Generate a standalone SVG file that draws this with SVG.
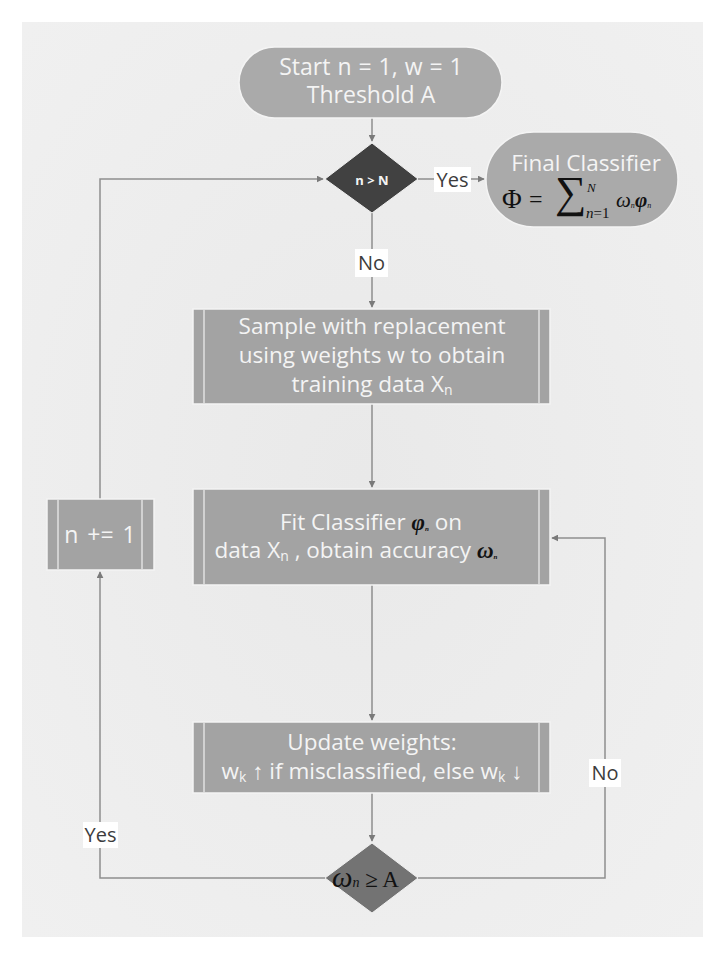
<svg xmlns="http://www.w3.org/2000/svg" width="727" height="967" viewBox="0 0 727 967">
<defs>
<marker id="arr" viewBox="0 0 10 10" refX="9" refY="5" markerWidth="7" markerHeight="7" markerUnits="userSpaceOnUse" orient="auto">
<path d="M0,0 L10,5 L0,10 z" fill="#7a7a7a"/>
</marker>
<radialGradient id="bg" cx="0.5" cy="0.5" r="0.7">
<stop offset="0" stop-color="#e9e9e9"/>
<stop offset="1" stop-color="#f0f0f0"/>
</radialGradient>
<style>
.t{font-family:"Open Sans","Noto Sans","Liberation Sans",sans-serif;fill:#f4f4f4;font-size:22.5px;text-anchor:middle}
.p{font-size:23px}
.lbl{font-family:"Open Sans","Noto Sans","Liberation Sans",sans-serif;fill:#3c3c3c;font-size:20px;text-anchor:middle}
.m{font-family:"Liberation Serif","DejaVu Serif",serif;fill:#111}
.box{fill:#a3a3a3;stroke:#f4f4f4;stroke-width:1.5}
.bar{stroke:#e0e0e0;stroke-width:1.5}
.pill{fill:#aaaaaa;stroke:#f4f4f4;stroke-width:1.5}
.c{fill:none;stroke:#8e8e8e;stroke-width:1.5}
.lb{fill:#ffffff}
</style>
</defs>
<rect x="0" y="0" width="727" height="967" fill="#ffffff"/>
<rect x="22" y="22" width="681" height="915" fill="url(#bg)"/>

<g id="connectors">
<path class="c" d="M372,118 V141" marker-end="url(#arr)"/>
<path class="c" d="M418,179 H484" marker-end="url(#arr)"/>
<path class="c" d="M372,212 V307" marker-end="url(#arr)"/>
<path class="c" d="M372,404 V487" marker-end="url(#arr)"/>
<path class="c" d="M372,585 V720" marker-end="url(#arr)"/>
<path class="c" d="M372,793 V841" marker-end="url(#arr)"/>
<path class="c" d="M326,878 H100 V572" marker-end="url(#arr)"/>
<path class="c" d="M418,878 H605 V538 H552" marker-end="url(#arr)"/>
<path class="c" d="M100,499 V179 H323" marker-end="url(#arr)"/>
<rect class="lb" x="434" y="167" width="37" height="25"/>
<text class="lbl" x="452.5" y="187">Yes</text>
<rect class="lb" x="355" y="249" width="33" height="28"/>
<text class="lbl" x="371.5" y="270">No</text>
<rect class="lb" x="83" y="822" width="35" height="26"/>
<text class="lbl" x="100.5" y="842">Yes</text>
<rect class="lb" x="589" y="759" width="32" height="28"/>
<text class="lbl" x="605" y="780">No</text>
</g>

<g id="start">
<rect class="pill" x="239" y="47" width="263" height="71" rx="35.5"/>
<text class="t p" x="371" y="75" word-spacing="1">Start n = 1, w = 1</text>
<text class="t p" x="371" y="103">Threshold A</text>
</g>

<g id="decision1">
<path d="M372,143 L418,179 L372,213 L325,179 z" fill="#414141" stroke="#f0f0f0" stroke-width="1"/>
<text x="372" y="184.5" text-anchor="middle" font-family="Open Sans,Noto Sans,sans-serif" font-weight="bold" font-size="13" fill="#f4f4f4">n &gt; N</text>
</g>

<g id="final">
<rect class="pill" x="486" y="132" width="192" height="95" rx="47.5"/>
<text class="t" x="586" y="171" font-size="22">Final Classifier</text>
<text class="m" x="502" y="208" font-size="27">Φ</text>
<text class="m" x="529" y="207" font-size="24">=</text>
<text class="m" x="555" y="207" font-size="44">∑</text>
<text class="m" x="587" y="192" font-size="13" font-style="italic">N</text>
<text class="m" x="586" y="218" font-size="15"><tspan font-style="italic">n</tspan>=1</text>
<text class="m" x="616" y="207" font-size="21" font-style="italic">ω<tspan font-size="8" dy="1">n</tspan></text>
<text class="m" x="635" y="207" font-size="21" font-style="italic" font-weight="bold">φ<tspan font-size="8" dy="1" font-weight="normal">n</tspan></text>
</g>

<g id="sample">
<rect class="box" x="193" y="309" width="357" height="95"/>
<line class="bar" x1="204" y1="309" x2="204" y2="404"/>
<line class="bar" x1="539" y1="309" x2="539" y2="404"/>
<text class="t" x="372" y="334">Sample with replacement</text>
<text class="t" x="372" y="363">using weights w to obtain</text>
<text class="t" x="372" y="392">training data X<tspan font-size="14" dy="3">n</tspan></text>
</g>

<g id="fit">
<rect class="box" x="193" y="489" width="357" height="96"/>
<line class="bar" x1="204" y1="489" x2="204" y2="585"/>
<line class="bar" x1="539" y1="489" x2="539" y2="585"/>
<text class="t" x="371" y="530">Fit Classifier <tspan class="m" font-style="italic" font-weight="bold" font-size="23">φ<tspan font-size="7" dy="1">n</tspan></tspan><tspan dy="-1"> on</tspan></text>
<text class="t" x="356" y="558">data X<tspan font-size="14" dy="3">n</tspan><tspan dy="-3"> , obtain accuracy </tspan><tspan class="m" font-style="italic" font-weight="bold" font-size="23">ω<tspan font-size="7" dy="1">n</tspan></tspan></text>
</g>

<g id="update">
<rect class="box" x="193" y="722" width="357" height="71"/>
<line class="bar" x1="204" y1="722" x2="204" y2="793"/>
<line class="bar" x1="539" y1="722" x2="539" y2="793"/>
<text class="t" x="372" y="750">Update weights:</text>
<text class="t" x="372" y="779">w<tspan font-size="14" dy="3">k</tspan><tspan dy="-3"> ↑ if misclassified, else w</tspan><tspan font-size="14" dy="3">k</tspan><tspan dy="-3"> ↓</tspan></text>
</g>

<g id="increment">
<rect class="box" x="47" y="499" width="107" height="71"/>
<line class="bar" x1="58" y1="499" x2="58" y2="570"/>
<line class="bar" x1="142" y1="499" x2="142" y2="570"/>
<text class="t p" x="100" y="543" word-spacing="3">n += 1</text>
</g>

<g id="decision2">
<path d="M372,843 L418,878 L372,913 L325,878 z" fill="#737373" stroke="#f0f0f0" stroke-width="1"/>
<text class="m" x="332" y="887" font-size="29" font-style="italic">ω<tspan font-size="14" font-style="italic">n</tspan><tspan font-style="normal" font-size="23"> ≥ A</tspan></text>
</g>
</svg>
